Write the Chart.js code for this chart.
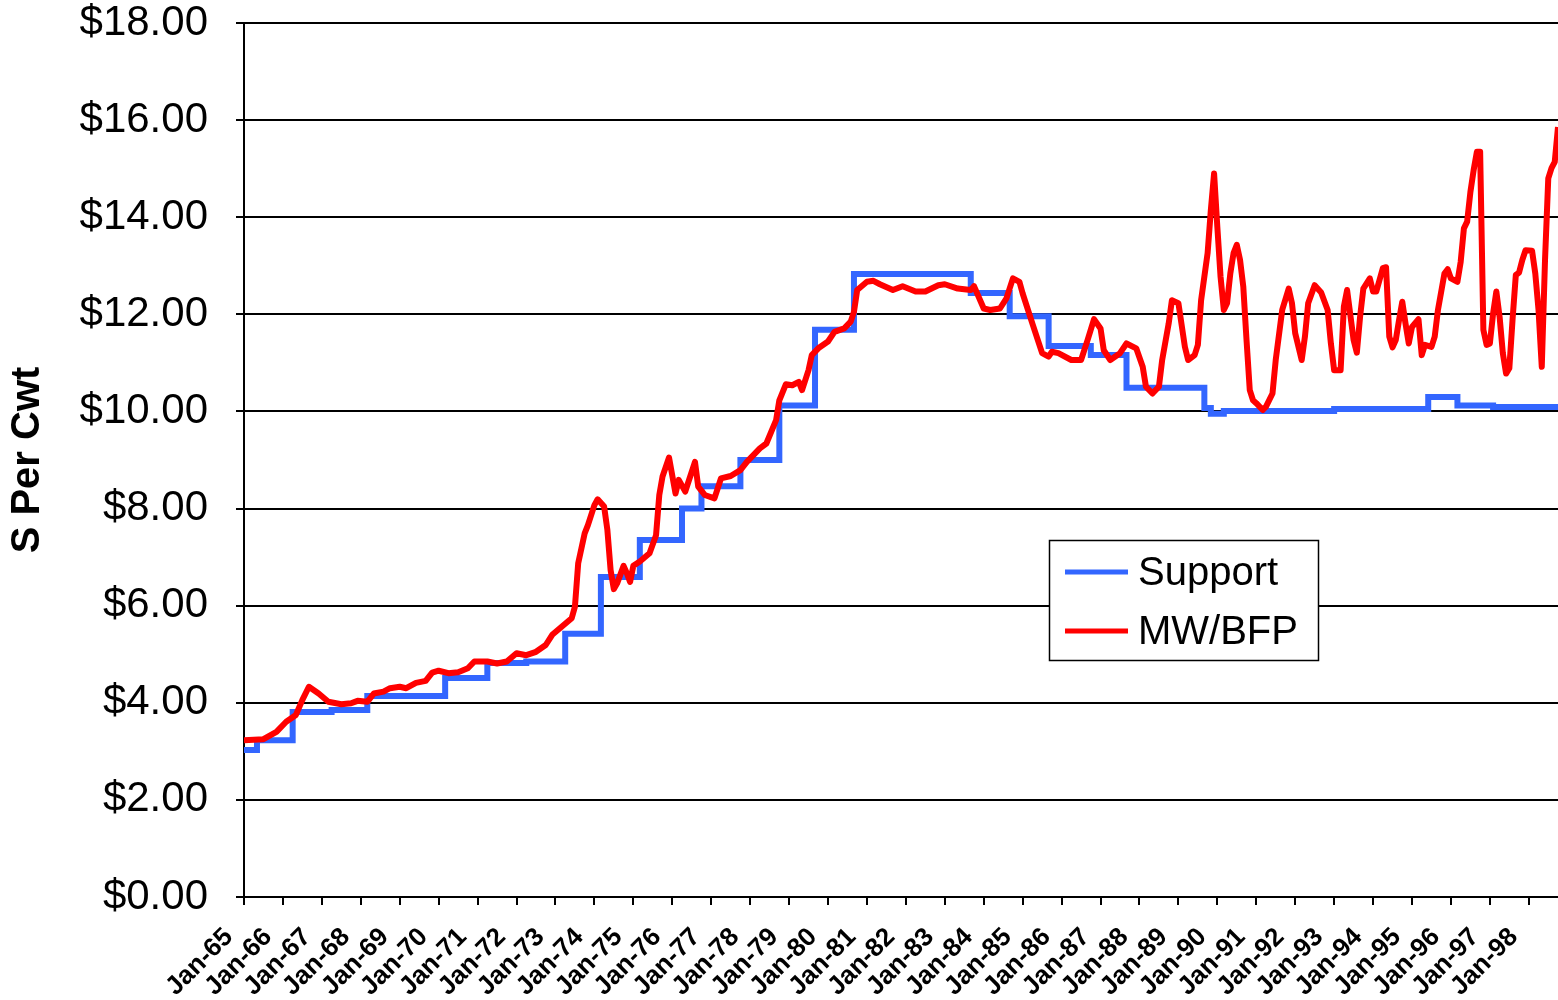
<!DOCTYPE html>
<html>
<head>
<meta charset="utf-8">
<script src="https://cdn.jsdelivr.net/npm/chart.js@4.4.1/dist/chart.umd.min.js"></script>
<style>
  body { margin: 0; background: #fff; }
</style>
</head>
<body>
<canvas id="myChart" width="1558" height="1000"></canvas>
<script>
"use strict"

// x axis is months counted from Jan-65, one label per year
let yearLabels = ["Jan-65", "Jan-66", "Jan-67", "Jan-68", "Jan-69", "Jan-70", "Jan-71", "Jan-72",
  "Jan-73", "Jan-74", "Jan-75", "Jan-76", "Jan-77", "Jan-78", "Jan-79", "Jan-80", "Jan-81",
  "Jan-82", "Jan-83", "Jan-84", "Jan-85", "Jan-86", "Jan-87", "Jan-88", "Jan-89", "Jan-90",
  "Jan-91", "Jan-92", "Jan-93", "Jan-94", "Jan-95", "Jan-96", "Jan-97", "Jan-98"];
let yearTicks = [0, 12, 24, 36, 48, 60, 72, 84, 96, 108, 120, 132, 144, 156, 168, 180, 192,
  204, 216, 228, 240, 252, 264, 276, 288, 300, 312, 324, 336, 348, 360, 372, 384, 396];

let yTicks = [0, 2, 4, 6, 8, 10, 12, 14, 16, 18];

// support price - a step line, each point is where a new level starts
let supportMonths = [0, 4, 15, 27, 38, 62, 75, 87, 99, 110, 122, 135, 141, 153, 165, 176, 188,
  224, 236, 248, 261, 272, 296, 298, 302, 336, 365, 374, 385, 405];
let supportValues = [3.03, 3.23, 3.81, 3.85, 4.14, 4.51, 4.82, 4.85, 5.42, 6.59, 7.35, 8.00, 8.46,
  9.00, 10.12, 11.68, 12.83, 12.44, 11.96, 11.35, 11.16, 10.49, 10.07, 9.95, 10.01, 10.05, 10.30,
  10.12, 10.09, 10.09];

// MW/BFP price
let mwMonths = [0, 6, 10, 13, 16, 18, 20, 23, 26, 30, 33, 35, 38, 40, 43, 45, 48, 50, 53, 56, 58,
  60, 63, 66, 69, 71, 75, 78, 81, 84, 87, 90, 93, 95, 98, 101, 102, 103, 105, 106, 108, 109, 111,
  112, 113, 114, 115, 117, 118, 119, 120, 122, 125, 127, 128, 129, 131, 133, 134, 136, 139, 140,
  142, 145, 147, 150, 153, 155, 159, 161, 164, 165, 167, 169, 171, 172, 174, 175, 177, 180, 182,
  185, 187, 188, 189, 192, 194, 196, 200, 203, 207, 210, 214, 216, 220, 224, 225, 228, 230, 233,
  235, 237, 239, 240, 243, 246, 248, 249, 251, 255, 258, 260, 262, 264, 265, 267, 270, 272, 275,
  277, 278, 280, 282, 283, 285, 286, 288, 290, 291, 293, 294, 295, 297, 298, 299, 300, 301, 302,
  303, 304, 305, 306, 307, 308, 309, 310, 311, 312, 314, 315, 317, 318, 320, 322, 323, 324, 326,
  327, 328, 330, 332, 334, 335, 336, 338, 339, 340, 342, 343, 344, 345, 347, 348, 349, 351, 352,
  353, 354, 355, 356, 357, 358, 359, 360, 362, 363, 364, 366, 367, 368, 370, 371, 372, 374, 375,
  376, 377, 378, 379, 380, 381, 382, 383, 384, 385, 386, 387, 388, 389, 390, 391, 392, 393, 394,
  395, 397, 398, 399, 400, 401, 402, 403, 404, 405];
let mwValues = [3.23, 3.25, 3.40, 3.61, 3.75, 4.06, 4.33, 4.19, 4.02, 3.97, 3.99, 4.04, 4.02, 4.19,
  4.23, 4.30, 4.33, 4.30, 4.41, 4.45, 4.62, 4.66, 4.61, 4.63, 4.71, 4.85, 4.85, 4.81, 4.85, 5.02,
  4.98, 5.05, 5.19, 5.40, 5.57, 5.74, 5.98, 6.87, 7.49, 7.66, 8.07, 8.19, 8.04, 7.56, 6.73, 6.34,
  6.46, 6.82, 6.67, 6.49, 6.82, 6.91, 7.08, 7.45, 8.28, 8.66, 9.05, 8.31, 8.59, 8.35, 8.96, 8.45,
  8.28, 8.21, 8.62, 8.67, 8.79, 8.96, 9.24, 9.34, 9.82, 10.23, 10.56, 10.54, 10.61, 10.44, 10.85,
  11.16, 11.30, 11.44, 11.64, 11.71, 11.85, 12.05, 12.50, 12.67, 12.69, 12.62, 12.50, 12.58, 12.47,
  12.47, 12.60, 12.62, 12.53, 12.50, 12.58, 12.12, 12.09, 12.12, 12.33, 12.74, 12.67, 12.43, 11.81,
  11.20, 11.13, 11.23, 11.20, 11.06, 11.06, 11.47, 11.90, 11.71, 11.26, 11.06, 11.20, 11.40, 11.30,
  10.92, 10.51, 10.37, 10.51, 11.06, 11.81, 12.29, 12.23, 11.33, 11.06, 11.16, 11.37, 12.29, 13.26,
  14.15, 14.90, 13.80, 12.77, 12.09, 12.23, 12.84, 13.26, 13.43, 13.12, 12.57, 11.47, 10.44, 10.23,
  10.17, 10.03, 10.10, 10.37, 11.06, 12.09, 12.53, 12.23, 11.61, 11.06, 11.54, 12.23, 12.60, 12.45,
  12.09, 11.40, 10.85, 10.85, 12.16, 12.50, 11.47, 11.21, 11.95, 12.53, 12.74, 12.47, 12.47, 12.95,
  12.97, 11.54, 11.32, 11.47, 11.88, 12.26, 11.81, 11.40, 11.74, 11.90, 11.16, 11.37, 11.33, 11.54,
  12.09, 12.84, 12.93, 12.74, 12.67, 13.08, 13.77, 13.91, 14.52, 14.97, 15.35, 15.35, 11.68, 11.37,
  11.40, 12.02, 12.47, 11.95, 11.20, 10.78, 10.89, 11.90, 12.81, 12.86, 13.12, 13.32, 13.31, 12.84,
  12.09, 10.92, 13.12, 14.80, 15.01, 15.14, 15.86];

function toPoints(xs, ys) {
  let pts = [];
  for (let i = 0; i < xs.length; i++) {
    pts.push({ x: xs[i], y: ys[i] });
  }
  return pts;
}

// legend sits inside the plot, Excel style
const legendBox = {
  id: "legendBox",
  afterDraw(chart) {
    const ctx = chart.ctx;
    ctx.save();
    ctx.fillStyle = "#fff";
    ctx.fillRect(1049, 540, 269, 120);
    ctx.strokeStyle = "#000";
    ctx.lineWidth = 1.5;
    ctx.strokeRect(1049.5, 540.5, 269, 120);
    chart.data.datasets.forEach((ds, i) => {
      let y = 572 + i * 59;
      ctx.strokeStyle = ds.borderColor;
      ctx.lineWidth = 5;
      ctx.beginPath();
      ctx.moveTo(1065, y);
      ctx.lineTo(1128, y);
      ctx.stroke();
      ctx.fillStyle = "#000";
      ctx.font = "40px 'Liberation Sans', Arial, sans-serif";
      ctx.textBaseline = "middle";
      ctx.textAlign = "left";
      ctx.fillText(ds.label, 1138, y + 2);
    });
    ctx.restore();
  }
};

const ctx = document.getElementById("myChart").getContext("2d");
const myChart = new Chart(ctx, {
  type: "line",
  data: {
    datasets: [
      {
        label: "Support",
        data: toPoints(supportMonths, supportValues),
        borderColor: "#3366ff",
        borderWidth: 6,
        pointRadius: 0,
        stepped: true,
        order: 1
      },
      {
        label: "MW/BFP",
        data: toPoints(mwMonths, mwValues),
        borderColor: "#ff0000",
        borderWidth: 6,
        pointRadius: 0,
        tension: 0,
        borderJoinStyle: "round",
        order: 0
      }
    ]
  },
  options: {
    responsive: false,
    animation: false,
    layout: { padding: { top: 23, right: 0, left: 0, bottom: 0 } },
    plugins: {
      legend: { display: false },
      tooltip: { enabled: false }
    },
    scales: {
      x: {
        type: "linear",
        min: 0,
        max: 405,
        afterBuildTicks: (scale) => {
          scale.ticks = yearTicks.map((v) => ({ value: v }));
        },
        afterFit: (scale) => {
          scale.height = 103;
          scale.paddingLeft = 0;
          scale.paddingRight = 0;
        },
        grid: {
          drawOnChartArea: false,
          drawTicks: true,
          tickLength: 8,
          color: "#000",
          lineWidth: 2
        },
        border: { display: true, color: "#000", width: 2 },
        ticks: {
          autoSkip: false,
          maxRotation: 45,
          minRotation: 45,
          padding: 17,
          labelOffset: -15,
          color: "#000",
          font: { family: "'Liberation Sans', Arial, sans-serif", size: 26, weight: "bold" },
          callback: (value) => yearLabels[yearTicks.indexOf(value)]
        }
      },
      y: {
        min: 0,
        max: 18,
        afterBuildTicks: (scale) => {
          scale.ticks = yTicks.map((v) => ({ value: v }));
        },
        afterFit: (scale) => {
          scale.width = 244;
          scale.paddingTop = 0;
          scale.paddingBottom = 0;
        },
        grid: {
          color: "#000",
          lineWidth: 2,
          tickLength: 8
        },
        border: { display: true, color: "#000", width: 2 },
        ticks: {
          padding: 28,
          color: "#000",
          font: { family: "'Liberation Sans', Arial, sans-serif", size: 42 },
          callback: (value) => "$" + value.toFixed(2)
        },
        title: {
          display: true,
          text: "S Per Cwt",
          color: "#000",
          padding: { top: 4, bottom: 0 },
          font: { family: "'Liberation Sans', Arial, sans-serif", size: 40, weight: "bold" }
        }
      }
    }
  },
  plugins: [legendBox]
});
</script>
</body>
</html>
